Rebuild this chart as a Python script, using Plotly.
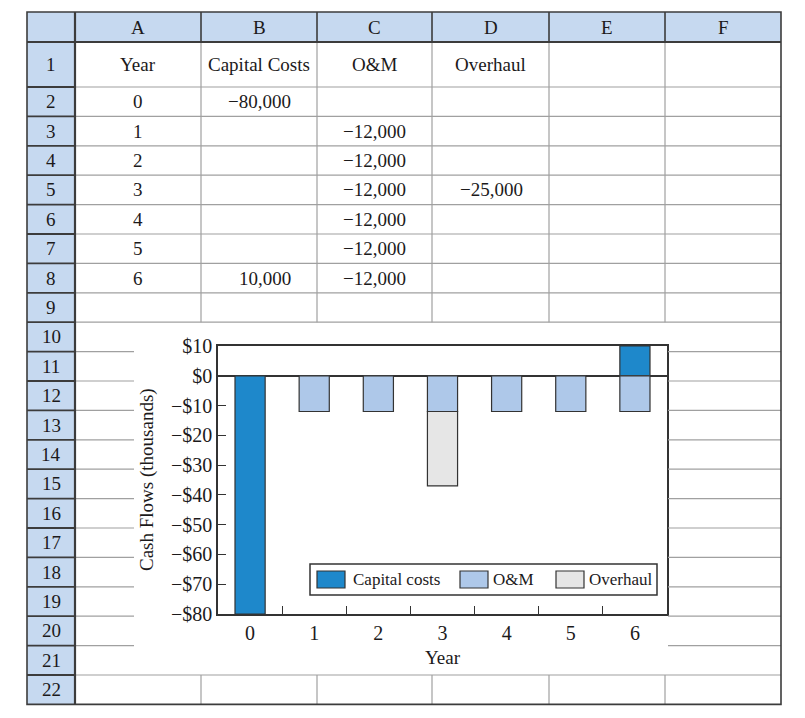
import plotly.graph_objects as go

# spreadsheet data (dollars)
years = [0, 1, 2, 3, 4, 5, 6]
capital_costs = [-80000, None, None, None, None, None, 10000]
om_costs = [None, -12000, -12000, -12000, -12000, -12000, -12000]
overhaul_costs = [None, None, None, -25000, None, None, None]

col_letters = ["A", "B", "C", "D", "E", "F"]
col_titles = ["Year", "Capital Costs", "O&M", "Overhaul", "", ""]
series_names = ["Capital costs", "O&M", "Overhaul"]
series_colors = ["#1e88cb", "#aec8e9", "#e6e6e6"]

y_ticks = [10, 0, -10, -20, -30, -40, -50, -60, -70, -80]

# the page body has an 8px margin all round; size the figure to fit the window
OFF = 8
W, H = 805 - 2 * OFF, 718 - 2 * OFF
FONT = "Liberation Serif"
INK = "#1c1a1b"
EDGE = "#333333"
GRID = "#a0a0a0"
HEAD = "#c6d9f0"


def px(x):
    return (x - OFF) / W


def py(y):
    return 1 - (y - OFF) / H


def fmt(v):
    if v is None:
        return ""
    return f"{v:,}".replace("-", "\u2212")


def money(v):
    s = f"${abs(v)}"
    return "\u2212" + s if v < 0 else s


def thousands(vals):
    return [None if v is None else v / 1000 for v in vals]


# sheet geometry in page pixels
col_edges = [27, 75, 201, 317, 432, 549, 665, 781]
row_edges = [12, 42, 87] + [87 + 29.4 * k for k in range(1, 22)]
chart_box = (134, 322.2, 668, 675)  # embedded chart object
plot_box = (218, 346, 667, 614)

shapes = []


def line(x0, y0, x1, y1, color=GRID, width=1.2):
    shapes.append(dict(type="line", xref="paper", yref="paper",
                       x0=px(x0), y0=py(y0), x1=px(x1), y1=py(y1),
                       line=dict(color=color, width=width)))


def rect(x0, y0, x1, y1, fill, color=None, width=0, layer="below"):
    shapes.append(dict(type="rect", xref="paper", yref="paper", layer=layer,
                       x0=px(x0), y0=py(y0), x1=px(x1), y1=py(y1),
                       fillcolor=fill,
                       line=dict(color=color or fill, width=width)))


left, top, right, bottom = col_edges[0], row_edges[0], col_edges[-1], row_edges[-1]
cx0, cy0, cx1, cy1 = chart_box

# header fills
rect(left, top, right, row_edges[1], HEAD)
rect(left, row_edges[1], col_edges[1], bottom, HEAD)

# grid lines, skipping the chart object
for y in row_edges[2:-1]:
    if cy0 < y < cy1:
        line(col_edges[1], y, cx0, y)
        line(cx1, y, right, y)
    else:
        line(col_edges[1], y, right, y)
for x in col_edges[2:-1]:
    if cx0 < x < cx1:
        line(x, row_edges[1], x, cy0)
        line(x, cy1, x, bottom)
    else:
        line(x, row_edges[1], x, bottom)

# header borders
line(left, row_edges[1], right, row_edges[1], "#3c3c3c", 2)
for x in col_edges[1:-1]:
    line(x, top, x, row_edges[1], "#3c3c3c", 1.6)
line(col_edges[1], top, col_edges[1], bottom, "#3c3c3c", 2.2)
for y in row_edges[2:-1]:
    line(left, y, col_edges[1], y, "#3c3c3c", 1.8)
rect(left, top, right, bottom, "rgba(0,0,0,0)", "#3c3c3c", 1.6, layer="above")

annotations = []


def text(x, y, s, anchor="center", size=19, angle=0):
    annotations.append(dict(x=px(x), y=py(y), xref="paper", yref="paper",
                            text=s, showarrow=False, xanchor=anchor,
                            yanchor="middle", textangle=angle,
                            font=dict(family=FONT, size=size, color=INK)))


# column letters and titles
for i, letter in enumerate(col_letters):
    xc = (col_edges[i + 1] + col_edges[i + 2]) / 2
    text(xc, (row_edges[0] + row_edges[1]) / 2, letter)
    if col_titles[i]:
        text(xc, (row_edges[1] + row_edges[2]) / 2, col_titles[i])

# row numbers
for r in range(1, 23):
    text((col_edges[0] + col_edges[1]) / 2, (row_edges[r] + row_edges[r + 1]) / 2, str(r))

# cell values
for i, yr in enumerate(years):
    yc = (row_edges[i + 2] + row_edges[i + 3]) / 2
    text((col_edges[1] + col_edges[2]) / 2, yc, str(yr))
    for c, vals in zip([3, 4, 5], [capital_costs, om_costs, overhaul_costs]):
        if vals[i] is not None:
            text(col_edges[c] - 24, yc, fmt(vals[i]), anchor="right")

# chart
fig = go.Figure()
for name, vals, color in zip(series_names,
                             [capital_costs, om_costs, overhaul_costs],
                             series_colors):
    fig.add_trace(go.Bar(
        x=[str(y) for y in years],
        y=thousands(vals),
        name=name,
        marker=dict(color=color, line=dict(color=EDGE, width=1.2)),
        showlegend=False,
    ))

# axis titles
text((plot_box[0] + plot_box[2]) / 2, 657, "Year")
text(147, (plot_box[1] + plot_box[3]) / 2, "Cash Flows (thousands)", angle=-90)

# legend box
rect(310, 564, 657, 595, "white", EDGE, 1.5, layer="above")
legend_items = [(317, 351), (460, 491), (556, 587)]
for (sx, tx), name, color in zip(legend_items, series_names, series_colors):
    rect(sx, 571, sx + 28, 588, color, EDGE, 1.2, layer="above")
    text(tx, 579.5, name, anchor="left", size=17)

tick_font = dict(family=FONT, size=20, color=INK)

fig.update_layout(
    width=W, height=H,
    margin=dict(l=0, r=0, t=0, b=0, pad=0, autoexpand=False),
    paper_bgcolor="white",
    plot_bgcolor="rgba(0,0,0,0)",
    barmode="relative",
    bargap=0.53,
    shapes=shapes,
    annotations=annotations,
    font=dict(family=FONT, size=19, color=INK),
    xaxis=dict(
        domain=[px(plot_box[0]), px(plot_box[2])],
        type="category",
        tickson="boundaries",
        ticks="inside", ticklen=8, tickwidth=1.2, tickcolor=EDGE,
        showline=True, mirror=True, linecolor=EDGE, linewidth=1.5,
        showgrid=False, zeroline=False, automargin=False,
        tickfont=tick_font,
    ),
    yaxis=dict(
        domain=[py(plot_box[3]), py(plot_box[1])],
        range=[-80, 10],
        tickvals=y_ticks,
        ticktext=[money(v) for v in y_ticks],
        ticks="inside", ticklen=8, tickwidth=1.2, tickcolor=EDGE,
        showline=True, mirror=True, linecolor=EDGE, linewidth=1.5,
        showgrid=False, automargin=False,
        zeroline=True, zerolinecolor=EDGE, zerolinewidth=1.5,
        tickfont=tick_font,
    ),
)

fig.write_html("out.html")
